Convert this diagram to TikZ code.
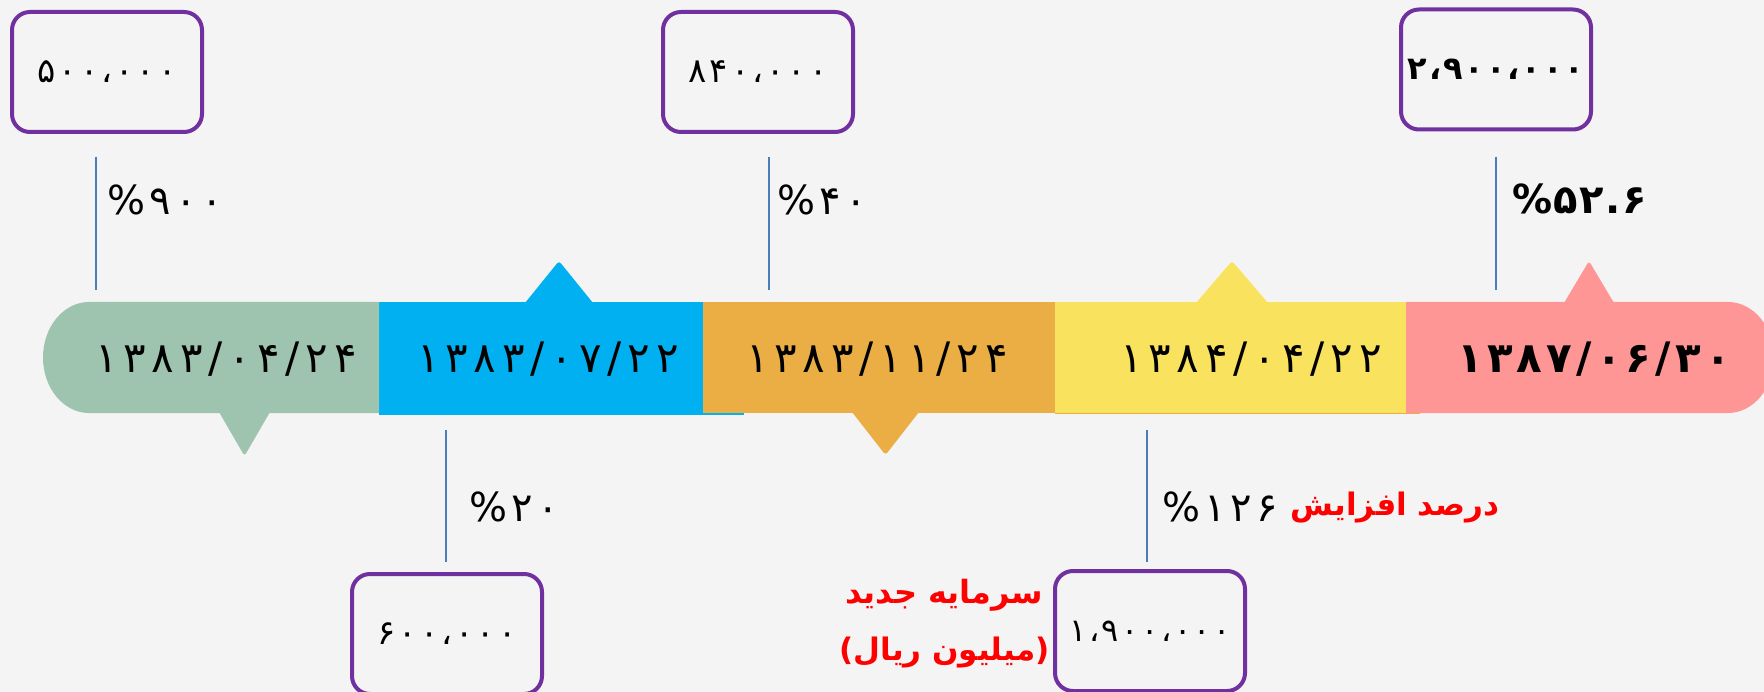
\documentclass[tikz,border=0pt]{standalone}
\usepackage{fontspec}
\TeXXeTstate=1
\newfontfamily\fadig{DejaVu Sans}
\newfontfamily\fatext[Script=Arabic]{DejaVu Sans}
\definecolor{bg}{RGB}{244,244,244}
\definecolor{cgreen}{RGB}{158,196,175}
\definecolor{cblue}{RGB}{0,176,240}
\definecolor{corange}{RGB}{235,174,68}
\definecolor{cyellow}{RGB}{248,226,94}
\definecolor{cpink}{RGB}{255,150,150}
\definecolor{cpurple}{RGB}{112,48,160}
\definecolor{cline}{RGB}{74,126,187}
\begin{document}
\begin{tikzpicture}[x=1pt,y=-1pt,
  valbox/.style={draw=cpurple, line width=4pt, rounded corners=18pt,
    minimum width=190pt, minimum height=120pt, inner sep=0pt,
    font=\fadig\fontsize{34}{38}\selectfont\addfontfeature{LetterSpace=9}},
  datetxt/.style={inner sep=0pt,
    font=\fadig\fontsize{42}{46}\selectfont\addfontfeature{LetterSpace=14}},
  pct/.style={anchor=west, inner sep=0pt,
    font=\fadig\fontsize{40}{44}\selectfont\addfontfeature{LetterSpace=11}},
  tick/.style={draw=cline, line width=2pt},
  redtxt/.style={text=red, inner sep=0pt, font=\fatext\bfseries\fontsize{31}{35}\selectfont},
]
\fill[bg] (0,0) rectangle (1764,692);
\useasboundingbox (0,0) rectangle (1764,692);

% timeline bar
\fill[cblue] (379,302) rectangle (744,414.5);
\fill[corange] (703,302) rectangle (1055,413);
\fill[corange] (1055,411) rectangle (1420,413.5);
\fill[cyellow] (1055,302) rectangle (1406.5,413);
\fill[cgreen] (379,302) -- (89,302) arc[start angle=270, end angle=90, x radius=46, y radius=55.5] -- (379,413) -- cycle;
\fill[cpink] (1406,302) -- (1728,302) arc[start angle=-90, end angle=90, x radius=46, y radius=55.5] -- (1406,413) -- cycle;

% pointers
\fill[cblue] (525,303) [rounded corners=3pt] -- (559,261) [sharp corners] -- (593,303) -- cycle;
\fill[cyellow] (1196,303) [rounded corners=3pt] -- (1232,261) [sharp corners] -- (1268,303) -- cycle;
\fill[cpink] (1564,303) [rounded corners=3pt] -- (1589,261) [sharp corners] -- (1614,303) -- cycle;
\fill[cgreen] (219,412) [rounded corners=3pt] -- (244.5,456) [sharp corners] -- (270,412) -- cycle;
\fill[corange] (852,412) [rounded corners=3pt] -- (885.5,455) [sharp corners] -- (919,412) -- cycle;

% dates
\node[datetxt] (d1) at (226,359) {۱۳۸۳/۰۴/۲۴};
\node[datetxt] (d2) at (548,359) {۱۳۸۳/۰۷/۲۲};
\node[datetxt] (d3) at (877,359) {۱۳۸۳/۱۱/۲۴};
\node[datetxt] (d4) at (1251,359) {۱۳۸۴/۰۴/۲۲};
\node[datetxt, font=\fadig\bfseries\fontsize{42}{46}\selectfont\addfontfeature{LetterSpace=10}] (d5) at (1594,359) {۱۳۸۷/۰۶/۳۰};

% value boxes
\node[valbox] (b1) at (107,72) {۵۰۰،۰۰۰};
\node[valbox] (b2) at (758,72) {۸۴۰،۰۰۰};
\node[valbox, font=\fadig\bfseries\fontsize{32}{36}\selectfont\addfontfeature{LetterSpace=6}] (b3) at (1496,69.5) {۲،۹۰۰،۰۰۰};
\node[valbox] (b4) at (447,634) {۶۰۰،۰۰۰};
\node[valbox, font=\fadig\fontsize{32}{36}\selectfont\addfontfeature{LetterSpace=8}] (b5) at (1150,631) {۱،۹۰۰،۰۰۰};

% ticks
\coordinate (t1a) at (96,157);   \coordinate (t1b) at (96,290);
\coordinate (t2a) at (769,157);  \coordinate (t2b) at (769,290);
\coordinate (t3a) at (1496,157); \coordinate (t3b) at (1496,290);
\coordinate (t4a) at (446,430);  \coordinate (t4b) at (446,562);
\coordinate (t5a) at (1147,430); \coordinate (t5b) at (1147,562);
\draw[tick] (t1a) -- (t1b);
\draw[tick] (t2a) -- (t2b);
\draw[tick] (t3a) -- (t3b);
\draw[tick] (t4a) -- (t4b);
\draw[tick] (t5a) -- (t5b);

% percentages
\node[pct] (p1) at (107,200) {\%۹۰۰};
\node[pct] (p2) at (777,200) {\%۴۰};
\node[pct, font=\fadig\bfseries\fontsize{40}{44}\selectfont\addfontfeature{LetterSpace=4}] (p3) at (1512,199) {\%۵۲.۶};
\node[pct] (p4) at (469,507) {\%۲۰};
\node[pct] (p5) at (1162,507) {\%۱۲۶};

% red captions
\node[redtxt] (r1) at (1395,508) {\beginR درصد افزایش\endR};
\node[redtxt, font=\fatext\bfseries\fontsize{32}{36}\selectfont] (r2) at (944,595) {\beginR سرمایه جدید\endR};
\node[redtxt] (r3) at (944.5,653) {{\fadig\bfseries(}\beginR میلیون ریال\endR{\fadig\bfseries)}};
\end{tikzpicture}
\end{document}
